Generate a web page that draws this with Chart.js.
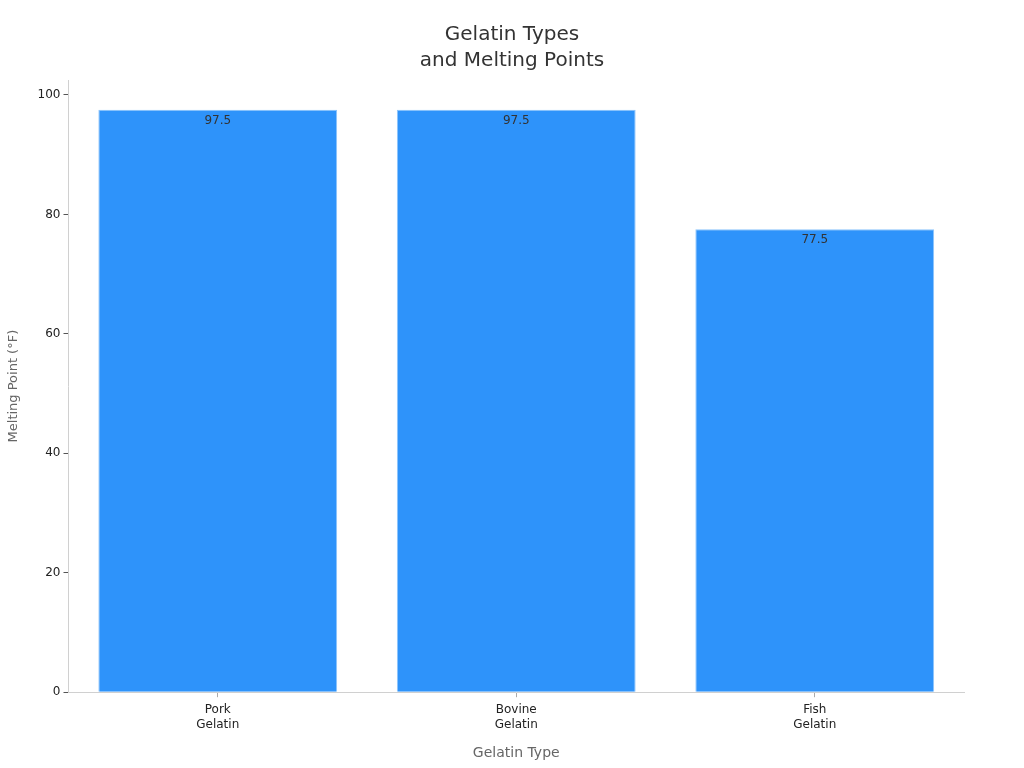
<!DOCTYPE html>
<html lang="en">
<head>
    <meta charset="UTF-8">
    <title>Gelatin Types and Melting Points</title>
    <style>
        html, body { margin: 0; padding: 0; background: #fff; }
        .container { width: 1024px; height: 768px; }
    </style>
</head>
<body>
    <div class="container">
        <canvas id="myChart" width="1024" height="768"></canvas>
    </div>
    <script src="https://cdn.jsdelivr.net/npm/chart.js"></script>
    <script>
        const categories = [['Pork', 'Gelatin'], ['Bovine', 'Gelatin'], ['Fish', 'Gelatin']];
        const meltingPoints = [97.5, 97.5, 77.5];
        const yTicks = [0, 20, 40, 60, 80, 100];
        const titleLines = ['Gelatin Types', 'and Melting Points'];

        const barColor = '#2E93FA';
        const fontName = "'DejaVu Sans', Verdana, sans-serif";

        // value labels just under the top of each bar
        const barLabels = {
            id: 'barLabels',
            afterDatasetsDraw(chart) {
                const { ctx } = chart;
                const meta = chart.getDatasetMeta(0);
                ctx.save();
                ctx.font = '12px ' + fontName;
                ctx.fillStyle = '#333333';
                ctx.textAlign = 'center';
                ctx.textBaseline = 'middle';
                meta.data.forEach((bar, i) => {
                    ctx.fillText(String(meltingPoints[i]), bar.x, bar.y + 11);
                });
                ctx.restore();
            }
        };

        // title centred on the whole canvas, not on the padded box
        const canvasTitle = {
            id: 'canvasTitle',
            afterDraw(chart) {
                const { ctx, width } = chart;
                ctx.save();
                ctx.font = '20px ' + fontName;
                ctx.fillStyle = '#333333';
                ctx.textAlign = 'center';
                ctx.textBaseline = 'middle';
                titleLines.forEach((line, i) => {
                    ctx.fillText(line, width / 2, 35 + i * 26);
                });
                ctx.restore();
            }
        };

        const ctx = document.querySelector('#myChart').getContext('2d');
        new Chart(ctx, {
            type: 'bar',
            data: {
                labels: categories,
                datasets: [{
                    data: meltingPoints,
                    backgroundColor: barColor,
                    borderColor: '#8cc4fb',
                    borderWidth: 1,
                    barPercentage: 0.8,
                    categoryPercentage: 1.0
                }]
            },
            plugins: [barLabels, canvasTitle],
            options: {
                responsive: false,
                animation: false,
                layout: { padding: { left: 6, right: 60, top: 80, bottom: 6 } },
                plugins: {
                    legend: { display: false },
                    tooltip: { enabled: false },
                    title: { display: false }
                },
                scales: {
                    x: {
                        grid: { display: true, drawOnChartArea: false, offset: false, tickLength: 5, color: '#aaaaaa' },
                        border: { display: true, color: '#d0d0d0' },
                        ticks: { color: '#222222', font: { family: fontName, size: 12, lineHeight: 1.25 }, padding: 5 },
                        title: {
                            display: true,
                            text: 'Gelatin Type',
                            color: '#666666',
                            font: { family: fontName, size: 14 },
                            padding: { top: 8, bottom: 0 }
                        }
                    },
                    y: {
                        min: 0,
                        max: 102.5,
                        afterBuildTicks(scale) {
                            scale.ticks = yTicks.map(v => ({ value: v }));
                        },
                        grid: { display: true, drawOnChartArea: false, tickLength: 5, color: '#555555' },
                        border: { display: true, color: '#d0d0d0' },
                        ticks: { color: '#222222', font: { family: fontName, size: 12 }, padding: 3 },
                        title: {
                            display: true,
                            text: 'Melting Point (°F)',
                            color: '#666666',
                            font: { family: fontName, size: 13 },
                            padding: { top: 0, bottom: 13 }
                        }
                    }
                }
            }
        });
    </script>
</body>
</html>
